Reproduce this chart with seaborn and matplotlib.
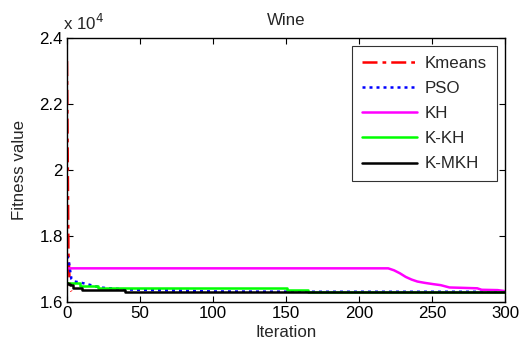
import matplotlib
matplotlib.use("Agg")
import matplotlib.pyplot as plt
import seaborn as sns
import pandas as pd
from matplotlib.ticker import FuncFormatter, MultipleLocator

# ---- data (fitness values) ----
kmeans_iter = [0, 1, 2, 3]
kmeans_val = [23300, 17500, 16400, 16320]

pso_iter = [0, 1, 2, 3, 5, 8, 12, 20, 25, 40, 60, 100, 165, 300]
pso_val = [17400, 17300, 17000, 16700, 16620, 16600, 16560, 16470, 16430, 16380, 16360, 16320, 16310, 16310]

kh_iter = [0, 220, 224, 228, 232, 236, 240, 245, 251, 256, 262, 270, 281, 284, 295, 300]
kh_val = [17020, 17020, 16960, 16870, 16760, 16680, 16620, 16580, 16540, 16510, 16440, 16430, 16415, 16370, 16360, 16330]

kkh_iter = [0, 9, 21, 151, 165, 300]
kkh_val = [16585, 16480, 16415, 16360, 16310, 16310]

kmkh_iter = [0, 1, 2, 4, 10, 40, 300]
kmkh_val = [16570, 16540, 16500, 16430, 16370, 16310, 16310]

series = [
    ("Kmeans", kmeans_iter, kmeans_val, "#ff0000", (0, (6, 2, 1.5, 2))),
    ("PSO", pso_iter, pso_val, "#0000ff", (0, (1.2, 1.6))),
    ("KH", kh_iter, kh_val, "#ff00ff", "-"),
    ("K-KH", kkh_iter, kkh_val, "#00ff00", "-"),
    ("K-MKH", kmkh_iter, kmkh_val, "#000000", "-"),
]

sns.set_theme(style="white")
plt.rcParams["font.family"] = ["Liberation Sans", "DejaVu Sans"]

FS = 12.2
fig = plt.figure(figsize=(5.21, 3.47), dpi=100)
ax = fig.add_axes([0.1286, 0.1297, 0.8407, 0.7608])

for name, it, val, col, ls in series:
    df = pd.DataFrame({"Iteration": it, "Fitness": val})
    sns.lineplot(data=df, x="Iteration", y="Fitness", ax=ax, color=col,
                 linestyle=ls, linewidth=1.8, label=name,
                 drawstyle="steps-post" if name in ("K-KH", "K-MKH") else "default")

ax.set_xlim(0, 300)
ax.set_ylim(16000, 24000)
ax.xaxis.set_major_locator(MultipleLocator(50))
ax.yaxis.set_major_locator(MultipleLocator(2000))
ax.yaxis.set_major_formatter(FuncFormatter(lambda v, p: f"{v/1e4:g}"))
ax.tick_params(direction="in", length=4, width=0.8, labelsize=FS,
               top=True, right=True, bottom=True, left=True, colors="black", pad=3)
for s in ax.spines.values():
    s.set_color("black")
    s.set_linewidth(1.0)

ax.set_xlabel("Iteration", fontsize=FS, labelpad=3)
ax.set_ylabel("Fitness value", fontsize=FS, labelpad=9)
ax.set_title("Wine", fontsize=FS, pad=9)
ax.text(-0.008, 1.02, r"x 10$^4$", transform=ax.transAxes, fontsize=FS,
        ha="left", va="bottom")

leg = ax.legend(loc="upper right", fontsize=FS, handlelength=3.3,
                labelspacing=0.6, borderaxespad=0.5, frameon=True,
                fancybox=False, borderpad=0.55, handletextpad=0.45)
leg.get_frame().set_edgecolor("black")
leg.get_frame().set_linewidth(0.8)

fig.savefig("out.png", dpi=100, facecolor="white")
